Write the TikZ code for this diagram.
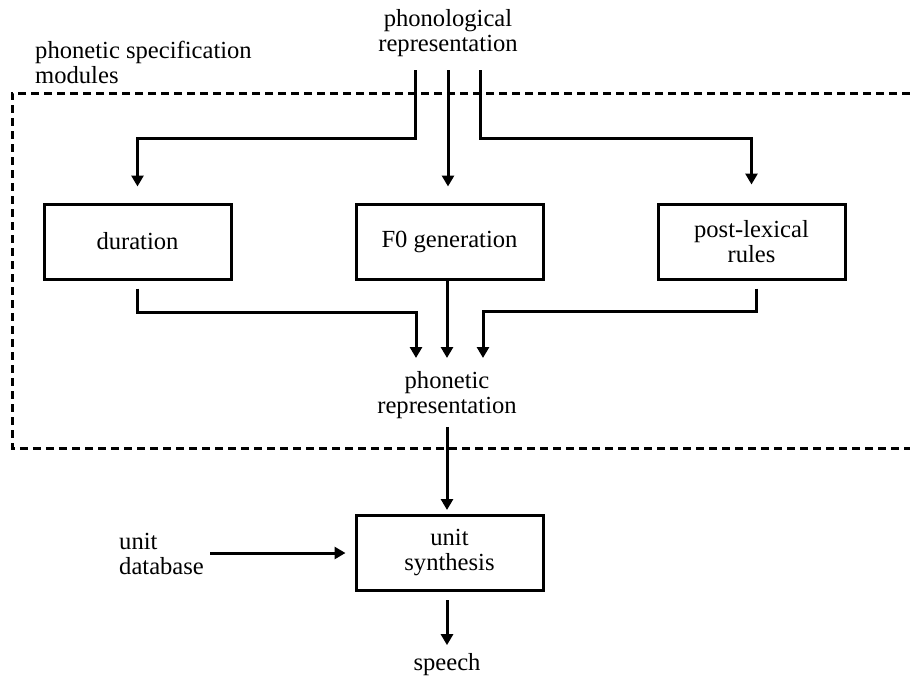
\documentclass[tikz,border=0pt]{standalone}
\usepackage{fontspec}
\setmainfont{Liberation Serif}
\usetikzlibrary{arrows.meta}
\begin{document}
\begin{tikzpicture}[x=1pt,y=-1pt,
  every node/.style={font=\fontsize{24.6}{25}\selectfont, inner sep=0pt},
  label/.style={align=center},
  module/.style={draw, line width=3pt, minimum width=187pt, minimum height=75pt, align=center},
  wire/.style={line width=3pt},
  arr/.style={wire, -{Triangle[width=12pt,length=11pt]}},
  region/.style={line width=3pt, dash pattern=on 8pt off 5pt}]
\useasboundingbox (0,0) rectangle (910,675);

% dashed frame of the phonetic specification modules (open on the right)
\draw[region] (910,93) -- (12,93) -- (12,448) -- (910,448);

% labels
\node[label] (phon) at (448,33) {phonological\\representation};
\node[label, align=left, anchor=west] (psm) at (35,62) {phonetic specification\\modules};
\node[label] (phonet) at (447,395) {phonetic\\representation};
\node[label, align=left, anchor=west] (udb) at (119,554) {unit\\database};
\node[label] (speech) at (447,664.5) {speech};

% modules
\node[module] (dur) at (137.5,241.5) {duration};
\node[module] (f0) at (449.5,241.5) {F0 generation};
\node[module] (post) at (751.5,241.5) {post-lexical\\rules};
\node[module] (synth) at (449.5,553) {unit\\synthesis};

% points where the branches leave and join
\coordinate (pL) at (415,70);
\coordinate (pM) at (448,70);
\coordinate (pR) at (480,70);
\coordinate (jL) at (416,358);
\coordinate (jM) at (447,358);
\coordinate (jR) at (483,358);

% phonological representation to the modules
\draw[arr, shorten >=16pt] (pL) |- (dur.north |- 0,138) -- (dur.north);
\draw[arr, shorten >=16pt] (pM) -- (pM |- f0.north);
\draw[arr, shorten >=18pt] (pR) |- (post.north |- 0,138) -- (post.north);

% modules to the phonetic representation
\draw[arr, shorten <=8pt] (dur.south) |- (jL |- 0,312) -- (jL);
\draw[arr] (f0.south -| jM) -- (jM);
\draw[arr, shorten <=8pt] ([xshift=5pt]post.south) |- (jR |- 0,311) -- (jR);

% synthesis stage
\draw[arr, shorten <=8pt, shorten >=4pt] (phonet.south -| jM) -- (jM |- synth.north);
\draw[arr, shorten <=6pt, shorten >=9pt] (udb.east |- synth.west) -- (synth.west);
\draw[arr, shorten <=8pt, shorten >=8pt] (jM |- synth.south) -- (jM |- speech.north);
\end{tikzpicture}
\end{document}
